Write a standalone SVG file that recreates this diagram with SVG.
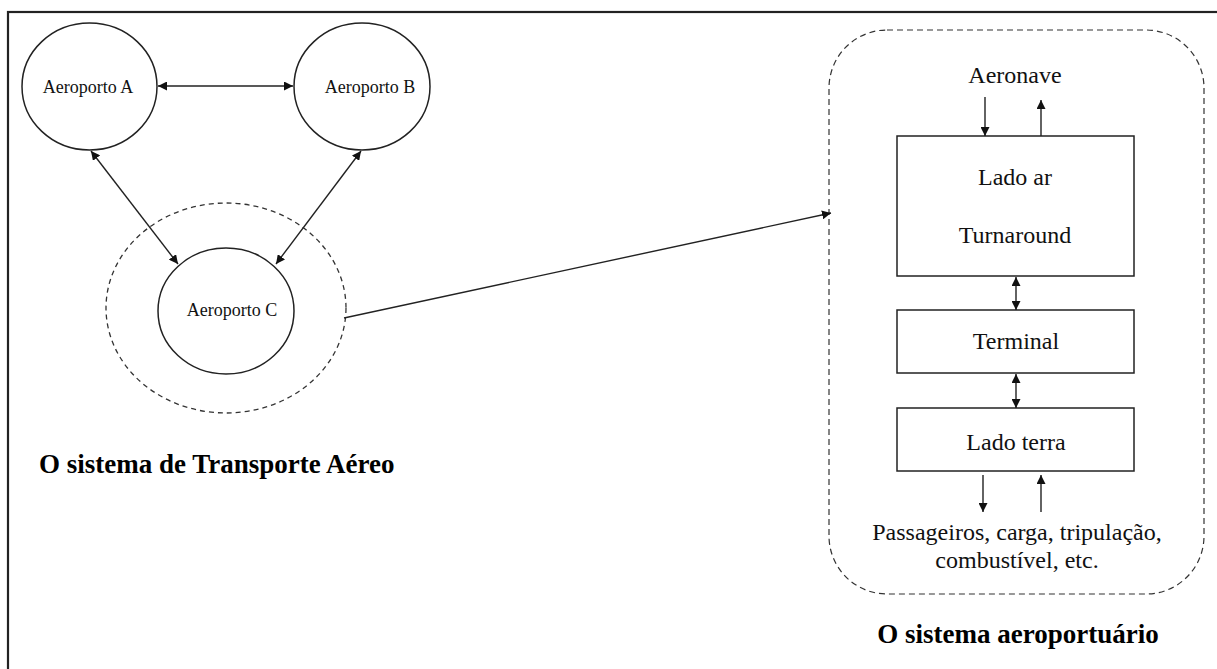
<svg xmlns="http://www.w3.org/2000/svg" width="1217" height="669" viewBox="0 0 1217 669">
<style>
.frame{fill:none;stroke:#222;stroke-width:2.2}
.node{fill:#fff;stroke:#222;stroke-width:1.5}
.dash{fill:none;stroke:#333;stroke-width:1.3;stroke-dasharray:5 4}
.box{fill:#fff;stroke:#222;stroke-width:1.5}
.edge{fill:none;stroke:#222;stroke-width:1.4}
.t18{font-family:"Liberation Serif","Times New Roman",serif;font-size:18px;fill:#111}
.t24{font-family:"Liberation Serif","Times New Roman",serif;font-size:24px;fill:#111;text-anchor:middle}
.title{font-family:"Liberation Serif","Times New Roman",serif;font-size:27px;font-weight:bold;fill:#000}
</style>
<defs>
<marker id="ah" viewBox="0 0 10 10" refX="10" refY="5" markerWidth="9" markerHeight="9" markerUnits="userSpaceOnUse" orient="auto-start-reverse">
<path d="M0,0 L10,5 L0,10 Z" fill="#111"/>
</marker>
</defs>
<rect x="0" y="0" width="1217" height="669" fill="#fff"/>
<rect class="frame" x="8" y="12" width="1230" height="680"/>

<g id="systemC">
<ellipse class="dash" cx="226" cy="308" rx="120" ry="105"/>
</g>
<g id="airportA">
<ellipse class="node" cx="89.5" cy="86.5" rx="67.5" ry="63.5"/>
<text class="t18" x="88" y="93" text-anchor="middle">Aeroporto A</text>
</g>
<g id="airportB">
<ellipse class="node" cx="362" cy="86.5" rx="68" ry="63.5"/>
<text class="t18" x="370" y="93" text-anchor="middle">Aeroporto B</text>
</g>
<g id="airportC">
<ellipse class="node" cx="226" cy="311" rx="68" ry="63"/>
<text class="t18" x="232" y="316" text-anchor="middle">Aeroporto C</text>
</g>
<g id="title-left">
<text class="title" x="39" y="473">O sistema de Transporte Aéreo</text>
</g>

<g id="airport-system">
<rect class="dash" x="829" y="30" width="375" height="564" rx="58" ry="58" style="stroke-dasharray:6 4;stroke-width:1.2"/>
</g>
<g id="aeronave">
<text class="t24" x="1015" y="83">Aeronave</text>
</g>
<g id="lado-ar">
<rect class="box" x="897" y="136" width="237" height="140"/>
<text class="t24" x="1015" y="185">Lado ar</text>
<text class="t24" x="1015" y="243">Turnaround</text>
</g>
<g id="terminal">
<rect class="box" x="897" y="310" width="237" height="63"/>
<text class="t24" x="1016" y="349">Terminal</text>
</g>
<g id="lado-terra">
<rect class="box" x="897" y="408" width="237" height="63"/>
<text class="t24" x="1016" y="450">Lado terra</text>
</g>
<g id="cargo">
<text class="t24" x="1017" y="540">Passageiros, carga, tripulação,</text>
<text class="t24" x="1017" y="568">combustível, etc.</text>
</g>
<g id="title-right">
<text class="title" x="1018" y="643" text-anchor="middle">O sistema aeroportuário</text>
</g>

<g id="connectors">
<line class="edge" x1="158" y1="86" x2="293" y2="86" marker-start="url(#ah)" marker-end="url(#ah)"/>
<line class="edge" x1="91" y1="151" x2="178" y2="264" marker-start="url(#ah)" marker-end="url(#ah)"/>
<line class="edge" x1="361" y1="151" x2="276" y2="264" marker-start="url(#ah)" marker-end="url(#ah)"/>
<line class="edge" x1="344" y1="318" x2="831" y2="213" marker-end="url(#ah)"/>
<line class="edge" x1="985" y1="97" x2="985" y2="136" marker-end="url(#ah)"/>
<line class="edge" x1="1041" y1="136" x2="1041" y2="100" marker-end="url(#ah)"/>
<line class="edge" x1="1016" y1="277" x2="1016" y2="310" marker-start="url(#ah)" marker-end="url(#ah)"/>
<line class="edge" x1="1016" y1="374" x2="1016" y2="408" marker-start="url(#ah)" marker-end="url(#ah)"/>
<line class="edge" x1="983" y1="475" x2="983" y2="512" marker-end="url(#ah)"/>
<line class="edge" x1="1041" y1="512" x2="1041" y2="475" marker-end="url(#ah)"/>
</g>
</svg>
